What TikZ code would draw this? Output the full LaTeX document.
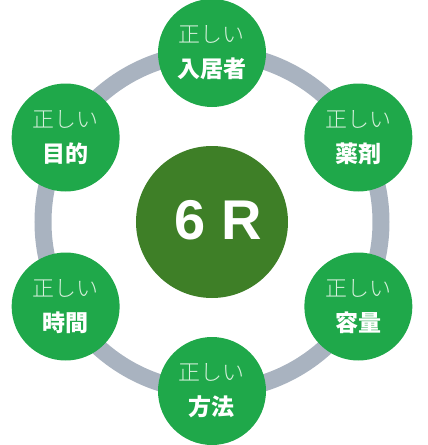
\documentclass[tikz,border=0pt]{standalone}
\usepackage{fontspec}
\newfontfamily\jpfont{Noto Sans CJK JP}
\newfontfamily\jplight{Noto Sans CJK JP}[UprightFont=* Light]
\setsansfont{Liberation Sans}

\tikzset{
  rball/.style={circle,fill=rgreen,minimum size=108pt,inner sep=0pt,
    text=white,align=center,font=\jpfont\bfseries\fontsize{23pt}{35pt}\selectfont},
}
\newcommand{\rlabel}[1]{{\jplight\mdseries\color{rpale}\fontsize{22pt}{35pt}\selectfont 正しい}\\#1}

\begin{document}
\begin{tikzpicture}[x=1pt,y=1pt]
\definecolor{rgreen}{HTML}{1FA84A}
\definecolor{rdark}{HTML}{3E7F27}
\definecolor{rpale}{HTML}{D6F0DC}
\definecolor{rring}{HTML}{A9B3C0}
\useasboundingbox (-212,-223) rectangle (216,222);
\draw[rring,line width=17pt] (0,0) circle (169);
\node[circle,fill=rdark,minimum size=152pt,inner sep=0pt,text=white,
  font=\sffamily\bfseries\fontsize{56pt}{56pt}\selectfont] (sixr) at (0,0)
  {\hspace*{12pt}\raisebox{4pt}{6 R}};
\node[rball] (resident) at (90:169) {\rlabel{入居者}};
\node[rball] (drug) at (30:169) {\rlabel{薬剤}};
\node[rball] (dose) at (-30:169) {\rlabel{容量}};
\node[rball] (route) at (-90:169) {\rlabel{方法}};
\node[rball] (time) at (210:169) {\rlabel{時間}};
\node[rball] (purpose) at (150:169) {\rlabel{目的}};
\end{tikzpicture}
\end{document}
